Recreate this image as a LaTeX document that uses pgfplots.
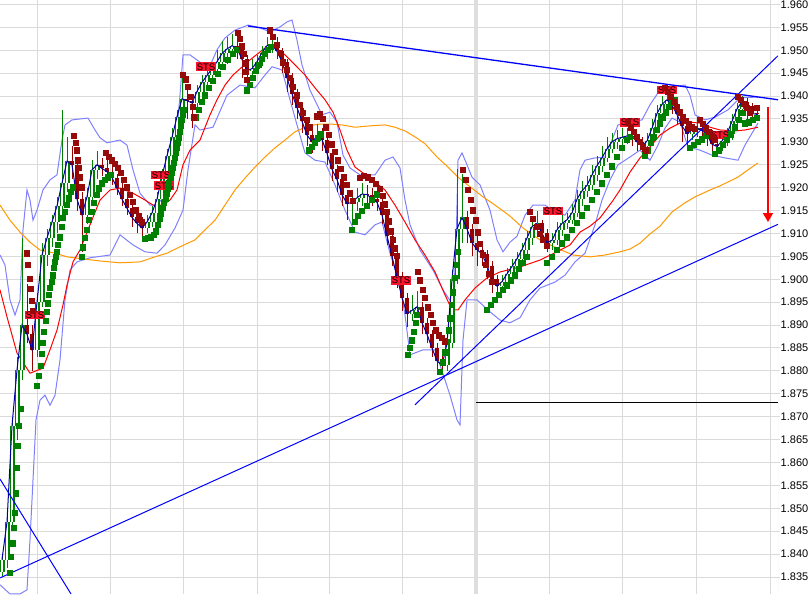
\documentclass[border=0pt]{standalone}
\usepackage{fontspec}
\setmainfont{Liberation Sans}
\usepackage{pgfplots}
\usepackage{pgfplotstable}
\pgfplotsset{compat=1.18}
\usetikzlibrary{arrows.meta}

% === Colours ===
\definecolor{gridgray}{RGB}{218,218,218}
\definecolor{sepgray}{RGB}{222,222,222}
\definecolor{bbblue}{RGB}{128,128,255}
\definecolor{maorange}{RGB}{255,153,0}
\definecolor{mared}{RGB}{255,0,0}
\definecolor{navyline}{RGB}{0,0,160}
\definecolor{candlegreen}{RGB}{0,128,0}
\definecolor{candlered}{RGB}{150,0,0}
\definecolor{sargreen}{RGB}{0,128,0}
\definecolor{sarred}{RGB}{150,10,10}
\definecolor{trendblue}{RGB}{0,0,255}
\definecolor{stsred}{RGB}{255,20,45}

% === Bars: x (screen column), open, high, low, close ===
\pgfplotstableread{
x o h l c
2 1.8360 1.8400 1.8350 1.8388
7 1.8388 1.8490 1.8370 1.8470
12 1.8470 1.8700 1.8450 1.8680
17 1.8680 1.8830 1.8650 1.8802
22 1.8802 1.9090 1.8780 1.8900
27 1.8900 1.8990 1.8860 1.8880
32 1.8880 1.8900 1.8800 1.8846
37 1.8846 1.8970 1.8830 1.8950
42 1.8950 1.9080 1.8940 1.9053
47 1.9053 1.9110 1.9030 1.9090
52 1.9090 1.9140 1.9070 1.9125
57 1.9125 1.9180 1.9100 1.9160
62 1.9160 1.9370 1.9150 1.9210
67 1.9210 1.9310 1.9190 1.9258
72 1.9258 1.9290 1.9220 1.9250
77 1.9250 1.9260 1.9150 1.9175
82 1.9175 1.9190 1.9060 1.9141
87 1.9141 1.9200 1.9120 1.9180
92 1.9180 1.9260 1.9160 1.9239
97 1.9239 1.9280 1.9220 1.9250
102 1.9250 1.9265 1.9225 1.9242
107 1.9242 1.9260 1.9220 1.9235
112 1.9235 1.9250 1.9205 1.9222
117 1.9222 1.9230 1.9185 1.9200
122 1.9200 1.9210 1.9160 1.9175
127 1.9175 1.9185 1.9140 1.9155
132 1.9155 1.9165 1.9115 1.9135
137 1.9135 1.9150 1.9100 1.9122
142 1.9122 1.9135 1.9090 1.9112
147 1.9112 1.9140 1.9100 1.9125
152 1.9125 1.9160 1.9115 1.9145
157 1.9145 1.9190 1.9135 1.9175
162 1.9175 1.9240 1.9165 1.9225
167 1.9225 1.9285 1.9215 1.9270
172 1.9270 1.9330 1.9260 1.9310
177 1.9310 1.9370 1.9300 1.9355
182 1.9355 1.9450 1.9345 1.9394
187 1.9394 1.9420 1.9350 1.9390
192 1.9390 1.9400 1.9330 1.9385
197 1.9385 1.9425 1.9370 1.9410
202 1.9410 1.9445 1.9395 1.9430
207 1.9430 1.9460 1.9415 1.9445
212 1.9445 1.9475 1.9430 1.9460
217 1.9460 1.9500 1.9445 1.9475
222 1.9475 1.9520 1.9460 1.9493
227 1.9493 1.9530 1.9470 1.9503
232 1.9503 1.9535 1.9485 1.9510
237 1.9510 1.9530 1.9480 1.9505
242 1.9505 1.9515 1.9440 1.9480
247 1.9480 1.9490 1.9420 1.9455
252 1.9455 1.9480 1.9440 1.9460
257 1.9460 1.9490 1.9450 1.9475
262 1.9475 1.9510 1.9465 1.9495
267 1.9495 1.9530 1.9480 1.9510
272 1.9510 1.9545 1.9495 1.9512
277 1.9512 1.9530 1.9480 1.9498
282 1.9498 1.9505 1.9450 1.9475
287 1.9475 1.9480 1.9410 1.9440
292 1.9440 1.9450 1.9380 1.9405
297 1.9405 1.9415 1.9350 1.9375
302 1.9375 1.9385 1.9320 1.9345
307 1.9345 1.9355 1.9290 1.9315
312 1.9315 1.9325 1.9275 1.9300
317 1.9300 1.9340 1.9290 1.9312
322 1.9312 1.9330 1.9280 1.9305
327 1.9305 1.9310 1.9250 1.9275
332 1.9275 1.9285 1.9215 1.9240
337 1.9240 1.9250 1.9190 1.9218
342 1.9218 1.9225 1.9160 1.9185
347 1.9185 1.9195 1.9130 1.9165
352 1.9165 1.9190 1.9120 1.9168
357 1.9168 1.9200 1.9150 1.9178
362 1.9178 1.9210 1.9160 1.9186
367 1.9186 1.9205 1.9165 1.9185
372 1.9185 1.9200 1.9160 1.9176
377 1.9176 1.9190 1.9150 1.9168
382 1.9168 1.9175 1.9120 1.9140
387 1.9140 1.9150 1.9075 1.9095
392 1.9095 1.9105 1.9030 1.9050
397 1.9050 1.9060 1.8980 1.9005
402 1.9005 1.9015 1.8930 1.8960
407 1.8960 1.8970 1.8895 1.8925
412 1.8925 1.8965 1.8910 1.8932
417 1.8932 1.8975 1.8915 1.8940
422 1.8940 1.8950 1.8880 1.8905
427 1.8905 1.8915 1.8860 1.8880
432 1.8880 1.8890 1.8830 1.8850
437 1.8850 1.8860 1.8800 1.8822
442 1.8822 1.8840 1.8790 1.8812
447 1.8812 1.8880 1.8800 1.8860
452 1.8860 1.9020 1.8850 1.9000
457 1.9000 1.9240 1.8990 1.9110
462 1.9110 1.9230 1.9080 1.9135
467 1.9135 1.9150 1.9080 1.9110
472 1.9110 1.9120 1.9050 1.9080
477 1.9080 1.9100 1.9030 1.9065
482 1.9065 1.9080 1.9030 1.9055
487 1.9055 1.9065 1.9000 1.9030
492 1.9030 1.9040 1.8970 1.9000
497 1.9000 1.9010 1.8960 1.8985
502 1.8985 1.9010 1.8970 1.8995
507 1.8995 1.9025 1.8985 1.9012
512 1.9012 1.9045 1.9000 1.9028
517 1.9028 1.9060 1.9015 1.9045
522 1.9045 1.9080 1.9030 1.9065
527 1.9065 1.9105 1.9050 1.9090
532 1.9090 1.9135 1.9075 1.9115
537 1.9115 1.9150 1.9100 1.9122
542 1.9122 1.9130 1.9080 1.9100
547 1.9100 1.9110 1.9060 1.9080
552 1.9080 1.9100 1.9065 1.9085
557 1.9085 1.9125 1.9075 1.9108
562 1.9108 1.9140 1.9095 1.9122
567 1.9122 1.9145 1.9110 1.9130
572 1.9130 1.9165 1.9120 1.9145
577 1.9145 1.9195 1.9135 1.9175
582 1.9175 1.9215 1.9160 1.9193
587 1.9193 1.9225 1.9180 1.9205
592 1.9205 1.9250 1.9195 1.9228
597 1.9228 1.9270 1.9215 1.9248
602 1.9248 1.9290 1.9235 1.9265
607 1.9265 1.9310 1.9255 1.9285
612 1.9285 1.9320 1.9275 1.9300
617 1.9300 1.9325 1.9285 1.9307
622 1.9307 1.9330 1.9290 1.9310
627 1.9310 1.9330 1.9295 1.9313
632 1.9313 1.9325 1.9290 1.9312
637 1.9312 1.9318 1.9280 1.9300
642 1.9300 1.9310 1.9270 1.9290
647 1.9290 1.9320 1.9280 1.9302
652 1.9302 1.9350 1.9290 1.9330
657 1.9330 1.9380 1.9320 1.9362
662 1.9362 1.9400 1.9350 1.9382
667 1.9382 1.9415 1.9370 1.9392
672 1.9392 1.9410 1.9360 1.9380
677 1.9380 1.9390 1.9340 1.9360
682 1.9360 1.9370 1.9300 1.9335
687 1.9335 1.9345 1.9290 1.9318
692 1.9318 1.9340 1.9305 1.9326
697 1.9326 1.9345 1.9310 1.9330
702 1.9330 1.9340 1.9305 1.9325
707 1.9325 1.9330 1.9290 1.9315
712 1.9315 1.9325 1.9275 1.9295
717 1.9295 1.9305 1.9270 1.9290
722 1.9290 1.9315 1.9280 1.9302
727 1.9302 1.9330 1.9290 1.9318
732 1.9318 1.9360 1.9305 1.9345
737 1.9345 1.9385 1.9335 1.9372
742 1.9372 1.9400 1.9360 1.9388
747 1.9388 1.9395 1.9350 1.9378
752 1.9378 1.9385 1.9345 1.9362
757 1.9362 1.9370 1.9345 1.9360
}\bars

% === One short plot per candle: wick, then body (hollow for up bars) ===
\def\candleplots{}%
\pgfplotstablegetrowsof{\bars}%
\pgfmathtruncatemacro{\lastrow}{\pgfplotsretval-1}%
\pgfplotsforeachungrouped \rowi in {0,...,\lastrow}{%
  \pgfplotstablegetelem{\rowi}{x}\of{\bars}\let\cx\pgfplotsretval
  \pgfplotstablegetelem{\rowi}{o}\of{\bars}\let\co\pgfplotsretval
  \pgfplotstablegetelem{\rowi}{h}\of{\bars}\let\ch\pgfplotsretval
  \pgfplotstablegetelem{\rowi}{l}\of{\bars}\let\cl\pgfplotsretval
  \pgfplotstablegetelem{\rowi}{c}\of{\bars}\let\cc\pgfplotsretval
  \ifdim\cc pt<\co pt
    \xdef\candleplots{\unexpanded\expandafter{\candleplots}%
      \noexpand\addplot[candlered, line width=1pt, forget plot] coordinates {(\cx,\cl) (\cx,\ch)};%
      \noexpand\addplot[candlered, line width=4.5pt, forget plot] coordinates {(\cx,\co) (\cx,\cc)};}%
  \else
    \xdef\candleplots{\unexpanded\expandafter{\candleplots}%
      \noexpand\addplot[candlegreen, line width=1pt, forget plot] coordinates {(\cx,\cl) (\cx,\ch)};%
      \noexpand\addplot[candlegreen, line width=5pt, forget plot] coordinates {(\cx,\co) (\cx,\cc)};%
      \noexpand\addplot[white, line width=2.6pt, forget plot] coordinates {(\cx,\co) (\cx,\cc)};}%
  \fi
}%

\begin{document}
\begin{tikzpicture}
\begin{axis}[
  scale only axis,
  width=778pt, height=594pt,
  xmin=0, xmax=778,
  ymin=1.83129, ymax=1.96098,
  axis line style={draw=none},
  xtick={37.7,110.3,183.7,257,329.3,402.7,476,549.3,622.7,696.3,770},
  xticklabels={}, xtick style={draw=none},
  ytick={1.835,1.840,1.845,1.850,1.855,1.860,1.865,1.870,1.875,1.880,1.885,1.890,1.895,1.900,1.905,1.910,1.915,1.920,1.925,1.930,1.935,1.940,1.945,1.950,1.955,1.960},
  ytick pos=right, yticklabel pos=right,
  ytick style={draw=gridgray, line width=1pt},
  tick align=outside, major tick length=2pt,
  yticklabel style={anchor=west, inner sep=0pt, xshift=0.5pt,
    font=\fontsize{11}{11}\selectfont,
    /pgf/number format/.cd, fixed, fixed zerofill, precision=3, assume math mode=true},
  scaled y ticks=false,
  grid=major,
  major grid style={draw=gridgray, line width=1pt},
]

% === Day separator ===
\addplot[sepgray, line width=4pt, forget plot] coordinates {(476,1.83129) (476,1.96098)};

% === Bollinger bands ===
\addplot[bbblue, line width=1pt] coordinates {
(0,1.9053)(5,1.9031)(10,1.8955)(15,1.8922)(20,1.8955)(23,1.9108)(27,1.9195)(30,1.9173)
(33,1.9129)(37,1.9151)(43,1.9195)(50,1.9217)(57,1.9228)(62,1.9304)(65,1.9337)(72,1.9348)
(88,1.9352)(95,1.9326)(100,1.9309)(107,1.9298)(120,1.9304)(127,1.9293)(133,1.9239)(140,1.9188)
(150,1.9162)(157,1.9162)(165,1.9184)(172,1.9228)(177,1.9326)(180,1.9402)(183,1.9490)(190,1.9490)
(200,1.9474)(210,1.9466)(217,1.9501)(225,1.9527)(235,1.9544)(248,1.9555)(260,1.9549)(270,1.9540)
(280,1.9551)(287,1.9562)(292,1.9566)(297,1.9522)(302,1.9468)(310,1.9413)(322,1.9359)(330,1.9365)
(337,1.9343)(343,1.9271)(350,1.9243)(360,1.9228)(375,1.9228)(385,1.9260)(393,1.9267)(400,1.9243)
(405,1.9173)(410,1.9119)(420,1.9064)(433,1.9020)(443,1.8977)(453,1.8944)(456,1.9064)(458,1.9260)
(462,1.9276)(467,1.9250)(472,1.9223)(480,1.9206)(490,1.9151)(497,1.9086)(503,1.9060)(510,1.9081)
(517,1.9094)(525,1.9140)(533,1.9162)(545,1.9162)(555,1.9147)(565,1.9140)(575,1.9173)(580,1.9239)
(585,1.9260)(595,1.9265)(605,1.9267)(612,1.9304)(618,1.9337)(630,1.9343)(642,1.9348)(650,1.9381)
(658,1.9407)(670,1.9420)(685,1.9424)(690,1.9402)(695,1.9359)(705,1.9348)(715,1.9354)(728,1.9370)
(740,1.9396)(758,1.9398)};
\addplot[bbblue, line width=1pt] coordinates {
(0,1.8333)(10,1.8313)(20,1.8313)(27,1.8322)(30,1.8431)(33,1.8562)(36,1.8693)(40,1.8736)
(45,1.8747)(50,1.8725)(55,1.8747)(60,1.8824)(65,1.8955)(70,1.9020)(77,1.9038)(90,1.9047)
(110,1.9053)(120,1.9097)(133,1.9075)(145,1.9060)(157,1.9057)(165,1.9075)(175,1.9112)(183,1.9151)
(188,1.9239)(195,1.9337)(200,1.9326)(213,1.9332)(227,1.9402)(240,1.9424)(255,1.9418)(265,1.9446)
(272,1.9464)(282,1.9457)(290,1.9392)(297,1.9337)(305,1.9276)(315,1.9260)(325,1.9256)(335,1.9206)
(345,1.9151)(355,1.9103)(365,1.9097)(375,1.9119)(382,1.9125)(390,1.9057)(400,1.8987)(405,1.8922)
(410,1.8835)(423,1.8846)(435,1.8846)(440,1.8813)(450,1.8747)(457,1.8693)(460,1.8682)(463,1.8867)
(467,1.8955)(477,1.8955)(490,1.8929)(500,1.8911)(510,1.8905)(520,1.8916)(530,1.8955)(540,1.8981)
(555,1.8994)(565,1.9009)(575,1.9038)(585,1.9057)(595,1.9119)(602,1.9173)(610,1.9217)(618,1.9250)
(630,1.9267)(640,1.9282)(650,1.9260)(658,1.9293)(665,1.9330)(672,1.9352)(680,1.9343)(688,1.9289)
(700,1.9282)(712,1.9271)(725,1.9265)(738,1.9260)(745,1.9293)(752,1.9319)(758,1.9341)};

% === Slow moving average (orange) ===
\addplot[maorange, line width=1pt] coordinates {
(0,1.9162)(10,1.9129)(20,1.9103)(30,1.9081)(40,1.9064)(55,1.9057)(67,1.9049)(85,1.9044)
(100,1.9040)(120,1.9036)(140,1.9038)(155,1.9049)(167,1.9057)(180,1.9071)(195,1.9086)(205,1.9108)
(215,1.9129)(225,1.9162)(235,1.9195)(245,1.9221)(255,1.9245)(265,1.9267)(275,1.9287)(285,1.9304)
(295,1.9322)(308,1.9335)(320,1.9339)(330,1.9339)(342,1.9337)(355,1.9332)(370,1.9335)(385,1.9337)
(395,1.9332)(405,1.9324)(415,1.9311)(425,1.9296)(437,1.9267)(448,1.9245)(458,1.9223)(470,1.9202)
(483,1.9180)(495,1.9162)(510,1.9138)(523,1.9112)(540,1.9086)(557,1.9068)(573,1.9053)(590,1.9049)
(605,1.9053)(620,1.9060)(630,1.9066)(640,1.9079)(650,1.9099)(660,1.9116)(672,1.9147)(685,1.9167)
(695,1.9180)(710,1.9195)(720,1.9204)(738,1.9223)(748,1.9239)(758,1.9254)};

% === Medium moving average (red) ===
\addplot[mared, line width=1pt] coordinates {
(0,1.8977)(7,1.8918)(17,1.8839)(30,1.8795)(43,1.8806)(50,1.8846)(57,1.8889)(63,1.8944)
(67,1.8987)(73,1.9038)(80,1.9064)(90,1.9119)(100,1.9173)(110,1.9195)(120,1.9199)(133,1.9188)
(145,1.9173)(153,1.9162)(163,1.9162)(170,1.9173)(177,1.9195)(183,1.9250)(190,1.9282)(200,1.9304)
(210,1.9359)(217,1.9392)(225,1.9424)(233,1.9446)(250,1.9479)(265,1.9505)(275,1.9507)(285,1.9490)
(295,1.9468)(305,1.9446)(315,1.9418)(325,1.9392)(333,1.9365)(340,1.9326)(347,1.9282)(355,1.9245)
(370,1.9221)(385,1.9195)(395,1.9162)(405,1.9125)(415,1.9086)(425,1.9053)(435,1.9016)(445,1.8966)
(452,1.8933)(458,1.8933)(465,1.8955)(475,1.8981)(487,1.9003)(500,1.9016)(520,1.9027)(540,1.9042)
(557,1.9060)(570,1.9075)(580,1.9103)(590,1.9116)(600,1.9134)(612,1.9169)(620,1.9195)(630,1.9234)
(640,1.9265)(650,1.9289)(660,1.9315)(670,1.9330)(680,1.9341)(690,1.9343)(700,1.9341)(710,1.9332)
(720,1.9326)(735,1.9324)(745,1.9326)(758,1.9332)};

% === Candles ===
\candleplots

% === Close line ===
\addplot[navyline, line width=1pt] table[x=x, y=c] {\bars};

% === Stop-and-reverse dots ===
\addplot[only marks, mark=square*, mark size=2.6pt, sargreen, mark options={draw=sargreen, fill=sargreen}] coordinates {
(10,1.8359)(11,1.8394)(13,1.8424)(14,1.8457)(15,1.8490)(16,1.8533)(17,1.8588)(18,1.8636)(19,1.8680)(21,1.8717)
(37,1.8767)(39,1.8789)(41,1.8811)(42,1.8837)(43,1.8861)(44,1.8885)(46,1.8909)(47,1.8929)(48,1.8948)(49,1.8966)
(50,1.8981)(52,1.8994)(53,1.9009)(54,1.9025)(55,1.9038)(56,1.9049)(57,1.9060)(58,1.9075)(60,1.9092)(62,1.9114)
(63,1.9134)(65,1.9147)(67,1.9162)(69,1.9177)(71,1.9191)(73,1.9201)
(82,1.9049)(83,1.9070)(85,1.9090)(87,1.9108)(89,1.9130)(92,1.9147)(94,1.9167)(97,1.9184)(99,1.9199)(102,1.9210)
(105,1.9217)(108,1.9223)(111,1.9228)
(145,1.9088)(148,1.9090)(151,1.9092)(154,1.9097)(156,1.9105)(158,1.9119)(160,1.9132)(161,1.9143)(163,1.9156)
(164,1.9167)(166,1.9177)(167,1.9188)(168,1.9199)(169,1.9210)(171,1.9221)(172,1.9232)(173,1.9243)(174,1.9254)
(175,1.9265)(176,1.9276)(177,1.9287)(178,1.9298)(179,1.9309)(180,1.9322)(181,1.9335)(182,1.9348)(183,1.9359)(184,1.9370)
(196,1.9354)(199,1.9370)(202,1.9387)(205,1.9402)(209,1.9418)(213,1.9433)(218,1.9448)(223,1.9464)(228,1.9479)
(233,1.9492)(237,1.9501)
(247,1.9413)(250,1.9424)(253,1.9440)(256,1.9455)(259,1.9468)(262,1.9481)(265,1.9492)(268,1.9501)(271,1.9507)
(309,1.9282)(312,1.9289)(315,1.9298)(318,1.9309)(321,1.9317)
(352,1.9108)(355,1.9125)(358,1.9138)(362,1.9149)(367,1.9160)(372,1.9173)(377,1.9186)
(408,1.8835)(410,1.8850)(412,1.8867)(414,1.8885)(416,1.8905)(417,1.8922)
(440,1.8798)(443,1.8819)(445,1.8841)(447,1.8863)(449,1.8889)(450,1.8915)(452,1.8944)(453,1.8972)(455,1.9003)
(457,1.9031)(458,1.9060)
(487,1.8933)(491,1.8944)(495,1.8955)(499,1.8966)(503,1.8977)(507,1.8987)(511,1.8998)(515,1.9009)(519,1.9023)
(523,1.9036)(527,1.9049)
(547,1.9036)(552,1.9049)(557,1.9064)(562,1.9079)(567,1.9092)(572,1.9108)(577,1.9123)(582,1.9140)(587,1.9156)
(592,1.9173)(597,1.9191)(602,1.9210)(607,1.9228)(612,1.9247)(617,1.9267)(622,1.9287)(627,1.9304)(630,1.9311)
(645,1.9271)(648,1.9282)(651,1.9298)(654,1.9311)(657,1.9326)(660,1.9341)(663,1.9354)(666,1.9365)(669,1.9376)
(672,1.9385)(675,1.9392)
(690,1.9287)(694,1.9293)(698,1.9300)(702,1.9306)(706,1.9313)(709,1.9319)
(715,1.9274)(719,1.9282)(723,1.9293)(727,1.9304)(731,1.9317)(735,1.9332)(739,1.9348)(743,1.9363)
(745,1.9341)(749,1.9343)(753,1.9348)(757,1.9352)};
\addplot[only marks, mark=square*, mark size=2.6pt, sarred, mark options={draw=sarred, fill=sarred}] coordinates {
(27,1.9057)(28,1.9031)(30,1.9001)(31,1.8979)(32,1.8953)(33,1.8931)
(74,1.9313)(76,1.9298)(77,1.9282)(78,1.9260)(79,1.9243)(80,1.9223)(82,1.9201)
(106,1.9276)(109,1.9267)(112,1.9260)(115,1.9252)(118,1.9243)(121,1.9232)(124,1.9217)(127,1.9201)(130,1.9184)
(133,1.9169)(136,1.9151)(139,1.9138)(142,1.9125)
(183,1.9446)(186,1.9437)(188,1.9420)(191,1.9398)(193,1.9376)(194,1.9354)
(238,1.9538)(240,1.9525)(242,1.9509)(244,1.9492)(245,1.9472)(246,1.9453)(247,1.9435)
(270,1.9544)(273,1.9529)(277,1.9512)(280,1.9494)(283,1.9474)(287,1.9457)(290,1.9440)(293,1.9420)(297,1.9402)
(300,1.9381)(303,1.9363)(307,1.9348)(310,1.9332)
(317,1.9356)(320,1.9361)(323,1.9350)(326,1.9332)(329,1.9315)(332,1.9295)(335,1.9278)(338,1.9260)(341,1.9241)
(344,1.9223)(347,1.9206)(350,1.9188)(353,1.9171)
(360,1.9221)(364,1.9226)(368,1.9223)(372,1.9217)(376,1.9208)(380,1.9197)(383,1.9182)(385,1.9164)(387,1.9147)
(389,1.9127)(391,1.9105)(393,1.9086)(395,1.9068)(397,1.9051)
(418,1.9016)(420,1.8998)(423,1.8977)(425,1.8959)(428,1.8939)(431,1.8922)(433,1.8905)(436,1.8889)(439,1.8878)
(442,1.8872)(445,1.8865)
(463,1.9239)(466,1.9217)(468,1.9195)(471,1.9173)(473,1.9151)(476,1.9129)(478,1.9103)(480,1.9077)(483,1.9053)
(486,1.9031)(489,1.9012)(492,1.8994)
(530,1.9147)(533,1.9132)(537,1.9114)(540,1.9099)(543,1.9086)(547,1.9073)
(628,1.9343)(631,1.9332)(634,1.9322)(637,1.9311)(640,1.9300)(643,1.9289)(646,1.9282)
(665,1.9418)(668,1.9409)(671,1.9398)(674,1.9387)(677,1.9376)(680,1.9365)(683,1.9354)(686,1.9346)(689,1.9339)
(692,1.9332)(695,1.9328)
(700,1.9348)(703,1.9339)(706,1.9330)(709,1.9322)(712,1.9313)(715,1.9304)
(738,1.9398)(741,1.9392)(744,1.9383)(747,1.9374)(750,1.9365)(757,1.9374)};

% === Trend lines ===
\addplot[trendblue, line width=1.3pt] coordinates {(248,1.9553) (778,1.9392)};
\addplot[trendblue, line width=1pt] coordinates {(0,1.8348) (778,1.9120)};
\addplot[trendblue, line width=1pt] coordinates {(415,1.8726) (778,1.9488)};
\addplot[trendblue, line width=1pt] coordinates {(0,1.8564) (71,1.8313)};
\addplot[black, line width=1.2pt] coordinates {(476,1.8731) (778,1.8731)};

% === Projection arrow ===
\draw[mared, line width=1.5pt, -{Triangle[width=10pt, length=9pt]}]
  (axis cs:768,1.9376) -- (axis cs:768,1.9125);

% === Signal labels ===
\tikzset{sts/.style={fill=stsred, text=black, inner xsep=0.5pt, inner ysep=1pt,
  font=\fontsize{9.5}{9.5}\selectfont}}
\node[sts] at (axis cs:35,1.8922) {STS};
\node[sts] at (axis cs:161,1.9228) {STS};
\node[sts] at (axis cs:164,1.9204) {STS};
\node[sts] at (axis cs:206,1.9464) {STS};
\node[sts] at (axis cs:401,1.8998) {STS};
\node[sts] at (axis cs:553,1.9149) {STS};
\node[sts] at (axis cs:630,1.9343) {STS};
\node[sts] at (axis cs:667,1.9413) {STS};
\node[sts] at (axis cs:720,1.9315) {STS};

% right frame line
\draw[gridgray, line width=1pt] (rel axis cs:1,0) -- (rel axis cs:1,1);
\end{axis}
\pgfresetboundingbox
\path (current axis.south west) rectangle ([xshift=30pt]current axis.north east);
\end{tikzpicture}
\end{document}
